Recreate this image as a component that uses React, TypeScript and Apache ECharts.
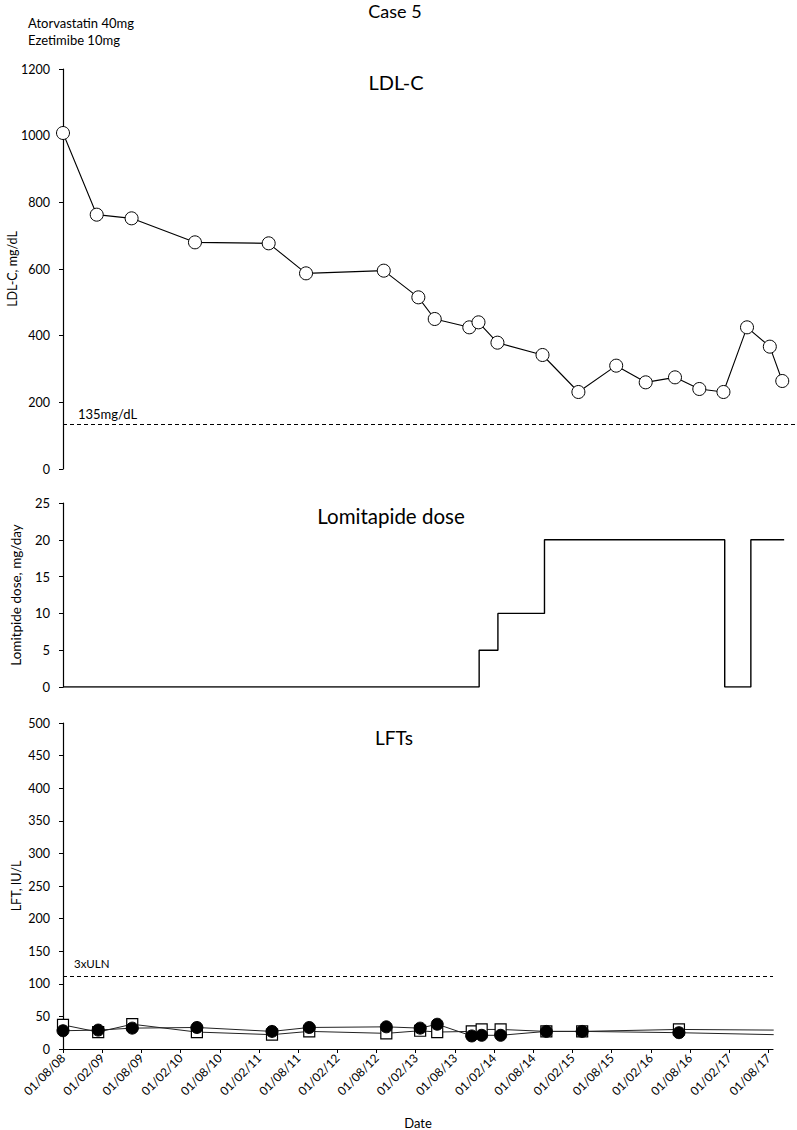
import { useEffect, useRef } from 'react';
import * as echarts from 'echarts';

const FONT = 'Lato, "Open Sans", sans-serif';

// LDL-C, mg/dL
const ldlDates = [
  '2008-08-01', '2009-01-06', '2009-06-16', '2010-04-07', '2011-03-16', '2011-09-07',
  '2012-09-04', '2013-02-12', '2013-04-28', '2013-10-07', '2013-11-19', '2014-02-15',
  '2014-09-13', '2015-02-26', '2015-08-22', '2016-01-07', '2016-05-22', '2016-09-13',
  '2017-01-04', '2017-04-22', '2017-08-07', '2017-10-04',
];
const ldlValues = [
  1008, 763, 752, 680, 677, 587,
  595, 515, 450, 425, 440, 379,
  342, 231, 310, 260, 275, 240,
  231, 425, 367, 264,
];

// Lomitapide dose, mg/day (value holds until next date)
const doseDates = ['2008-08-01', '2013-11-22', '2014-02-17', '2014-09-22', '2017-01-10', '2017-05-10', '2017-10-13'];
const doseValues = [0, 5, 10, 20, 0, 20, 20];

// LFTs, IU/L
const lftDates = [
  '2008-08-01', '2009-01-13', '2009-06-19', '2010-04-16', '2011-04-01', '2011-09-22',
  '2012-09-16', '2013-02-20', '2013-05-10', '2013-10-19', '2013-12-04', '2014-03-01',
  '2014-10-01', '2015-03-16', '2016-06-10', '2017-08-26',
];
const lftSquare = [37, 26, 38, 26, 22, 27, 24, 28, 26, 27, 30, 30, 27, 27, 30, 29];
const lftCircle = [28, 29, 32, 33, 27, 33, 34, 32, 38, 20, 21, 21, 27, 27, 25, 22];

const xTickLabels = [
  '01/08/08', '01/02/09', '01/08/09', '01/02/10', '01/08/10', '01/02/11', '01/08/11',
  '01/02/12', '01/08/12', '01/02/13', '01/08/13', '01/02/14', '01/08/14', '01/02/15',
  '01/08/15', '01/02/16', '01/08/16', '01/02/17', '01/08/17',
];

const ldlTarget = 135;
const lftLimit = 111;

// months since 2008-08-01 (fractional)
function toMonths(s: string): number {
  const [y, m, d] = s.split('-').map(Number);
  const dim = new Date(y, m, 0).getDate();
  return (y - 2008) * 12 + (m - 8) + (d - 1) / dim;
}

const pairs = (dates: string[], vals: number[]) => dates.map((d, i) => [toMonths(d), vals[i]]);

export default function App() {
  const ref = useRef<HTMLDivElement>(null);

  useEffect(() => {
    if (!ref.current) return;
    const chart = echarts.init(ref.current, undefined, { renderer: 'svg' });

    const yAxisBase = (
      gridIndex: number, min: number, max: number, interval: number,
      name: string, nameGap: number, nameSize: number, labelSize: number,
    ) => ({
      type: 'value',
      gridIndex,
      min,
      max,
      interval,
      name,
      nameLocation: 'middle',
      nameGap,
      nameMoveOverlap: false,
      nameTextStyle: { fontFamily: FONT, fontSize: nameSize, color: '#000' },
      axisLine: { show: true, lineStyle: { color: '#000', width: 1.2 } },
      axisTick: { show: true, length: 4, lineStyle: { color: '#000' } },
      axisLabel: {
        fontFamily: FONT, fontSize: labelSize, color: '#000', margin: 13,
        formatter: (v: number) => String(v),
      },
      splitLine: { show: false },
    });

    const dash = { type: [4, 3], color: '#000', width: 1.2 };
    const gridBase = { containLabel: false, outerBoundsMode: 'none' };

    chart.setOption({
      animation: false,
      backgroundColor: '#fff',
      grid: [
        { ...gridBase, left: 63, top: 69, width: 733, height: 400 },
        { ...gridBase, left: 63, top: 503, width: 733, height: 184 },
        { ...gridBase, left: 63, top: 723, width: 710, height: 326 },
      ],
      xAxis: [
        { type: 'value', gridIndex: 0, min: 0, max: 112.2, show: false },
        { type: 'value', gridIndex: 1, min: 0, max: 112.2, show: false },
        {
          type: 'value', gridIndex: 2, min: 0, max: 108.7, interval: 6,
          name: 'Date', nameLocation: 'middle', nameGap: 67,
          nameTextStyle: { fontFamily: FONT, fontSize: 13, color: '#000' },
          axisLine: { show: true, lineStyle: { color: '#000', width: 1.2 } },
          axisTick: { show: true, length: 4, lineStyle: { color: '#000' } },
          axisLabel: {
            fontFamily: FONT, fontSize: 12, color: '#000', rotate: 45, margin: 7,
            showMaxLabel: false,
            formatter: (v: number) => {
              const i = Math.round(v / 6);
              return Math.abs(v - i * 6) < 1e-6 && xTickLabels[i] ? xTickLabels[i] : '';
            },
          },
          splitLine: { show: false },
        },
      ],
      yAxis: [
        yAxisBase(0, 0, 1200, 200, 'LDL-C, mg/dL', 44, 12.5, 12.5),
        yAxisBase(1, 0, 25, 5, 'Lomitpide dose, mg/day', 40, 13.5, 13),
        yAxisBase(2, 0, 500, 50, 'LFT, IU/L', 40, 12.5, 12.5),
      ],
      graphic: [
        { type: 'text', x: 395, y: 11, style: { text: 'Case 5', fontFamily: FONT, fontSize: 18, fill: '#000', textAlign: 'center', textVerticalAlign: 'middle' } },
        { type: 'text', x: 28, y: 23, style: { text: 'Atorvastatin 40mg', fontFamily: FONT, fontSize: 13, fill: '#000', textAlign: 'left', textVerticalAlign: 'middle' } },
        { type: 'text', x: 28, y: 40, style: { text: 'Ezetimibe 10mg', fontFamily: FONT, fontSize: 13, fill: '#000', textAlign: 'left', textVerticalAlign: 'middle' } },
        { type: 'text', x: 396, y: 82, style: { text: 'LDL-C', fontFamily: FONT, fontSize: 20, fill: '#000', textAlign: 'center', textVerticalAlign: 'middle' } },
        { type: 'text', x: 391, y: 516, style: { text: 'Lomitapide dose', fontFamily: FONT, fontSize: 20.5, fill: '#000', textAlign: 'center', textVerticalAlign: 'middle' } },
        { type: 'text', x: 394, y: 737, style: { text: 'LFTs', fontFamily: FONT, fontSize: 19, fill: '#000', textAlign: 'center', textVerticalAlign: 'middle' } },
      ],
      series: [
        {
          type: 'line',
          xAxisIndex: 0, yAxisIndex: 0,
          data: pairs(ldlDates, ldlValues),
          symbol: 'circle', symbolSize: 13,
          itemStyle: { color: '#fff', borderColor: '#000', borderWidth: 1 },
          lineStyle: { color: '#000', width: 1.1 },
          markLine: {
            silent: true, symbol: 'none',
            lineStyle: dash,
            label: {
              show: true, position: 'insideStartTop', formatter: '135mg/dL',
              fontFamily: FONT, fontSize: 13, color: '#000', padding: [0, 0, 0, 11], distance: 4,
            },
            data: [{ yAxis: ldlTarget }],
          },
        },
        {
          type: 'line',
          xAxisIndex: 1, yAxisIndex: 1,
          data: pairs(doseDates, doseValues),
          step: 'end',
          showSymbol: false, symbol: 'none',
          lineStyle: { color: '#000', width: 1.4 },
        },
        {
          type: 'line',
          xAxisIndex: 2, yAxisIndex: 2,
          data: pairs(lftDates, lftSquare),
          symbol: 'rect', symbolSize: 11,
          itemStyle: { color: '#fff', borderColor: '#000', borderWidth: 1.2 },
          lineStyle: { color: '#222', width: 1 },
          markLine: {
            silent: true, symbol: 'none',
            lineStyle: dash,
            label: {
              show: true, position: 'insideStartTop', formatter: '3xULN',
              fontFamily: FONT, fontSize: 11.5, color: '#000', padding: [0, 0, 0, 4], distance: 7,
            },
            data: [{ yAxis: lftLimit }],
          },
        },
        {
          type: 'line',
          xAxisIndex: 2, yAxisIndex: 2,
          data: pairs(lftDates, lftCircle),
          symbol: 'circle', symbolSize: 12,
          itemStyle: { color: '#000', borderColor: '#000', borderWidth: 1 },
          lineStyle: { color: '#222', width: 1 },
        },
      ],
    });

    return () => chart.dispose();
  }, []);

  return (
    <div
      ref={ref}
      style={{ position: 'absolute', left: 0, top: 0, width: 797, height: 1130, background: '#fff' }}
    />
  );
}
